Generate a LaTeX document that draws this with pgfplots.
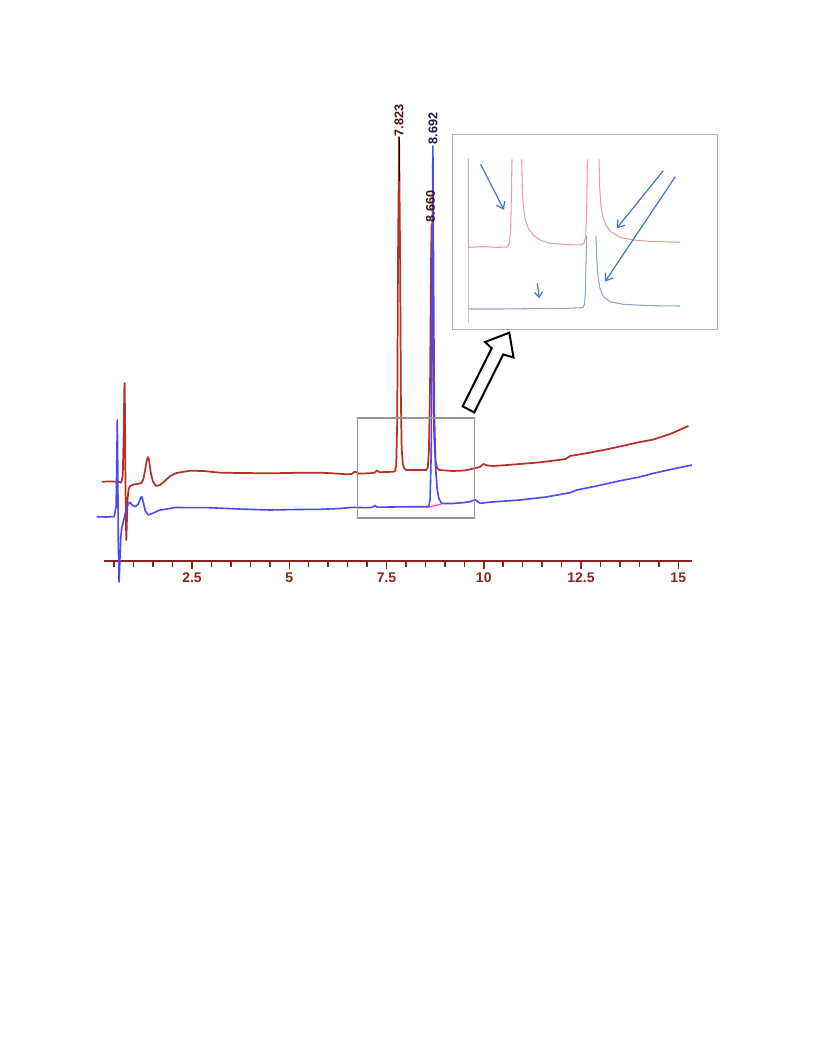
\documentclass[border=0pt]{standalone}
\usepackage{fontspec}
\setmainfont{Liberation Sans}
\usepackage{pgfplots}
\pgfplotsset{compat=1.18}
\usetikzlibrary{arrows.meta}

\definecolor{tracered}{RGB}{182,48,36}
\definecolor{traceblue}{RGB}{72,72,245}
\definecolor{axisred}{RGB}{135,38,28}
\definecolor{lblred}{RGB}{75,18,15}
\definecolor{lblblue}{RGB}{25,25,70}
\definecolor{zoomgray}{RGB}{150,150,150}
\definecolor{insetgray}{RGB}{175,175,175}
\definecolor{palered}{RGB}{226,160,160}
\definecolor{paleblue}{RGB}{140,165,205}
\definecolor{notes}{RGB}{68,114,196}
\definecolor{intpink}{RGB}{255,70,200}

\begin{document}
\begin{tikzpicture}
% page frame (letter page, 816 x 1056 px at 0.75pt per px)
\path[use as bounding box] (0,0) rectangle (612pt,-792pt);

% main chromatogram
\begin{axis}[
    at={(77.775pt,-420.75pt)}, anchor=south west,
    scale only axis, width=440.85pt, height=352.5pt,
    xmin=0.23, xmax=15.34, ymin=0, ymax=470,
    axis x line=bottom, axis y line=none,
    x axis line style={-, line width=1.5pt, draw=axisred},
    xtick={2.5,5,7.5,10,12.5,15},
    xticklabels={2.5,5,7.5,10,12.5,15},
    minor xtick={0.5,1,...,15},
    tick align=outside,
    major tick length=6pt, minor tick length=4.5pt,
    every tick/.style={axisred, line width=1.1pt},
    xticklabel style={font=\fontsize{10.5}{12}\selectfont\bfseries, text=axisred, yshift=1pt},
    clip=false,
]

% red trace
\addplot[tracered, line width=1.3pt, line join=round] coordinates {
(0.18,79.3)(0.40,79.5)(0.60,79.3)(0.68,78.5)(0.72,85)(0.745,130)(0.76,172)
(0.768,178)(0.777,150)(0.787,90)(0.80,40)(0.812,21)(0.825,38)(0.845,62)
(0.87,72)(0.91,75)(1.0,76.5)(1.1,77)(1.2,78)(1.25,82)(1.30,92)(1.34,101)
(1.37,104)(1.40,100)(1.44,88)(1.50,79)(1.58,75)(1.68,76)(1.80,80)(1.94,85)
(2.10,88)(2.45,90.3)(2.80,90)(3.22,88.3)(3.80,88)(4.50,87.7)(5.20,88.2)
(5.80,88.3)(6.20,87.5)(6.48,86.7)(6.60,87)(6.69,89.5)(6.78,87.5)(7.08,87.7)
(7.20,88.5)(7.25,90.5)(7.32,88.8)(7.50,89)(7.68,89.3)(7.72,90)(7.75,96)
(7.775,140)(7.795,300)(7.823,424)(7.85,300)(7.87,160)(7.89,112)(7.92,97)
(7.96,92)(8.02,91)(8.30,91)(8.52,91)(8.56,93)(8.59,110)(8.62,180)(8.645,300)
(8.66,337)(8.68,290)(8.70,190)(8.725,125)(8.76,100)(8.80,93)(8.86,91)
(9.20,90)(9.50,90.5)(9.65,91.7)(9.90,94)(9.99,97)(10.10,95.5)(10.25,95)
(10.60,96)(10.93,97)(11.40,98.5)(11.79,100.3)(12.10,102)(12.22,105)
(12.60,107.5)(13.08,111)(13.50,114.5)(13.93,118.3)(14.36,121.5)(14.79,127)
(15.00,130.5)(15.26,135)
};
\addplot[black, line width=0.6pt] coordinates {(7.823,380)(7.823,424)};

% blue trace
\addplot[traceblue, line width=1.2pt, line join=round] coordinates {
(0.05,44.3)(0.30,44)(0.50,44.5)(0.55,55)(0.57,110)(0.58,141)(0.59,100)
(0.605,20)(0.625,-21)(0.645,0)(0.67,25)(0.70,34)(0.74,40)(0.80,50)(0.86,57)
(0.907,58.7)(0.96,56)(1.036,54.3)(1.12,57)(1.18,63)(1.208,64.3)(1.24,60)
(1.30,50)(1.378,46)(1.50,48)(1.68,51)(1.94,52.5)(2.06,53.5)(2.96,53.3)
(3.70,52)(4.50,51)(5.20,51.5)(5.80,51.7)(6.30,52.5)(6.64,53.7)(6.80,53.5)
(7.08,53.3)(7.15,54)(7.20,55.5)(7.26,53.8)(7.60,54)(8.00,54.2)(8.49,54.3)
(8.55,54.3)(8.59,55)(8.62,62)(8.65,110)(8.67,260)(8.692,415)(8.712,270)
(8.73,150)(8.76,95)(8.80,72)(8.85,62)(8.92,57.5)(9.20,57.5)(9.50,58.5)
(9.65,59.3)(9.776,61.5)(9.905,57.7)(10.20,59)(10.93,61)(11.60,64)
(12.22,68.3)(12.39,71)(12.90,75)(13.51,80.3)(14.00,84)(14.36,87.7)
(14.80,91.5)(15.35,96)
};
% integration baseline
\addplot[intpink, line width=1pt] coordinates {(8.517,53.3)(8.895,56.7)};

% peak labels
\node[rotate=90, anchor=west, inner sep=0.5pt, text=lblred,
      font=\fontsize{9.5}{10}\selectfont\bfseries] at (axis cs:7.823,424) {7.823};
\node[rotate=90, anchor=west, inner sep=0.5pt, text=lblblue,
      font=\fontsize{9.5}{10}\selectfont\bfseries] at (axis cs:8.692,416) {8.692};
\node[rotate=90, anchor=west, inner sep=0.5pt, text=lblred,
      font=\fontsize{9.5}{10}\selectfont\bfseries] at (axis cs:8.63,338) {8.660};

% zoom window
\draw[zoomgray, line width=0.8pt] (axis cs:6.743,43) rectangle (axis cs:9.751,143);
\end{axis}

% inset (enlarged view of the zoom window)
\begin{axis}[
    at={(339pt,-246.75pt)}, anchor=south west,
    scale only axis, width=198.75pt, height=146.25pt,
    xmin=6, xmax=801, ymin=-597, ymax=-12,
    xtick=\empty, ytick=\empty,
    axis line style={draw=insetgray, line width=0.6pt},
    clip=false,
]
\addplot[palered, line width=0.8pt] coordinates {
(55,-85)(55,-352)(100,-350)(140,-352)(172,-351)(178,-340)(182,-300)(184,-200)(186,-88)
};
\addplot[palered, line width=0.8pt] coordinates {
(215,-88)(217,-180)(220,-230)(226,-270)(235,-295)(250,-315)(270,-330)(300,-340)
(350,-344)(395,-345)(402,-340)(407,-320)(410,-250)(412,-88)
};
\addplot[palered, line width=0.8pt] coordinates {
(447,-88)(449,-170)(453,-230)(460,-265)(470,-290)(485,-307)(510,-322)(550,-330)
(600,-334)(690,-337)
};
\addplot[paleblue!60, line width=0.6pt] coordinates {(55,-355)(55,-580)};
\addplot[paleblue, line width=0.8pt] coordinates {
(55,-537)(150,-537)(250,-536)(350,-535)(398,-533)(403,-525)(406,-490)(408,-400)(410,-318)
};
\addplot[paleblue, line width=0.8pt] coordinates {
(438,-318)(440,-380)(444,-440)(450,-475)(460,-500)(480,-515)(520,-523)(600,-527)(690,-528)
};
\draw[notes, line width=0.9pt, -{Straight Barb[length=5pt,width=7pt]}] (axis cs:92,-103) -- (axis cs:162,-240);
\draw[notes, line width=0.9pt, -{Straight Barb[length=5pt,width=7pt]}] (axis cs:640,-122) -- (axis cs:500,-295);
\draw[notes, line width=0.9pt, -{Straight Barb[length=5pt,width=7pt]}] (axis cs:676,-140) -- (axis cs:465,-455);
\draw[notes, line width=0.9pt, -{Straight Barb[length=4pt,width=6pt]}] (axis cs:262,-460) -- (axis cs:268,-505);
\end{axis}

% hollow arrow pointing to the inset
\begin{scope}[x=0.75pt, y=-0.75pt]
\draw[black, line width=1.5pt, fill=white, line join=miter]
  (462.7,406.3) -- (491.7,348.3) -- (485,342) -- (509.3,332.7)
  -- (513.5,357.5) -- (503.2,354.4) -- (474.2,412.4) -- cycle;
\end{scope}
\end{tikzpicture}
\end{document}
